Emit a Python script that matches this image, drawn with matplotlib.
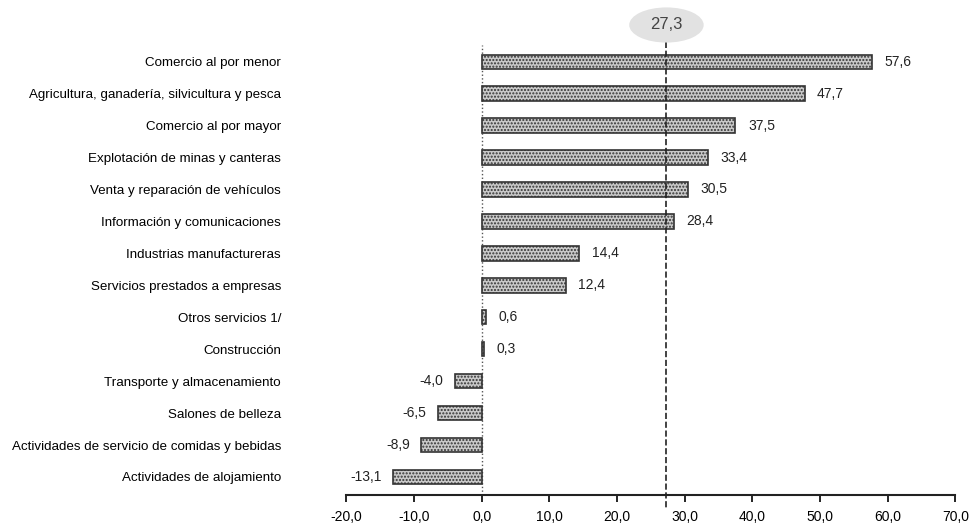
import matplotlib.pyplot as plt
from matplotlib.patches import Ellipse

# Datos
sectores = [
    "Comercio al por menor",
    "Agricultura, ganadería, silvicultura y pesca",
    "Comercio al por mayor",
    "Explotación de minas y canteras",
    "Venta y reparación de vehículos",
    "Información y comunicaciones",
    "Industrias manufactureras",
    "Servicios prestados a empresas",
    "Otros servicios 1/",
    "Construcción",
    "Transporte y almacenamiento",
    "Salones de belleza",
    "Actividades de servicio de comidas y bebidas",
    "Actividades de alojamiento",
]
valores = [57.6, 47.7, 37.5, 33.4, 30.5, 28.4, 14.4, 12.4, 0.6, 0.3, -4.0, -6.5, -8.9, -13.1]
promedio = 27.3
x_ticks = [-20, -10, 0, 10, 20, 30, 40, 50, 60, 70]

plt.rcParams['font.family'] = ['Liberation Sans', 'DejaVu Sans']
plt.rcParams['hatch.color'] = '#9a9a9a'

fig = plt.figure(figsize=(9.7, 5.27), dpi=100)
ax = fig.add_axes([0.357, 0.061, 0.628, 0.854])

pos = list(range(len(sectores)))
ax.barh(pos, valores, height=0.45, color='#c9c9c9', edgecolor='#333333',
        linewidth=1.2, hatch='.....', zorder=2)

for y, v in zip(pos, valores):
    txt = f"{v:.1f}".replace('.', ',')
    if v >= 0:
        ax.annotate(txt, (v, y), xytext=(9, 0), textcoords='offset points',
                    va='center', ha='left', fontsize=10, color='#222222')
    else:
        ax.annotate(txt, (v, y), xytext=(-8, 0), textcoords='offset points',
                    va='center', ha='right', fontsize=10, color='#222222')

# Línea del cero y del promedio
ax.axvline(0, color='#555555', linestyle=':', linewidth=1.0, zorder=1)
ax.plot([promedio, promedio], [-0.9, 14.0], color='#222222', linestyle='--',
        linewidth=1.2, clip_on=False, zorder=3)
ax.add_patch(Ellipse((promedio, -1.15), 11.0, 1.1, facecolor='#e2e2e2',
                     edgecolor='none', clip_on=False, zorder=3))
ax.text(promedio, -1.15, f"{promedio:.1f}".replace('.', ','), ha='center',
        va='center', fontsize=12, color='#444444', zorder=4)

ax.set_xlim(-20, 70)
ax.set_ylim(13.56, -0.53)
ax.set_xticks(x_ticks)
ax.set_xticklabels([f"{t:.1f}".replace('.', ',') for t in x_ticks], fontsize=10)
ax.set_yticks(pos)
ax.set_yticklabels(sectores, fontsize=9.6)
ax.tick_params(axis='y', length=0, pad=47)
ax.tick_params(axis='x', direction='out', length=5, width=1.2, pad=6)

for s in ['top', 'right', 'left']:
    ax.spines[s].set_visible(False)
ax.spines['bottom'].set_linewidth(1.5)
ax.spines['bottom'].set_color('#222222')

fig.savefig('out.png', dpi=100)
